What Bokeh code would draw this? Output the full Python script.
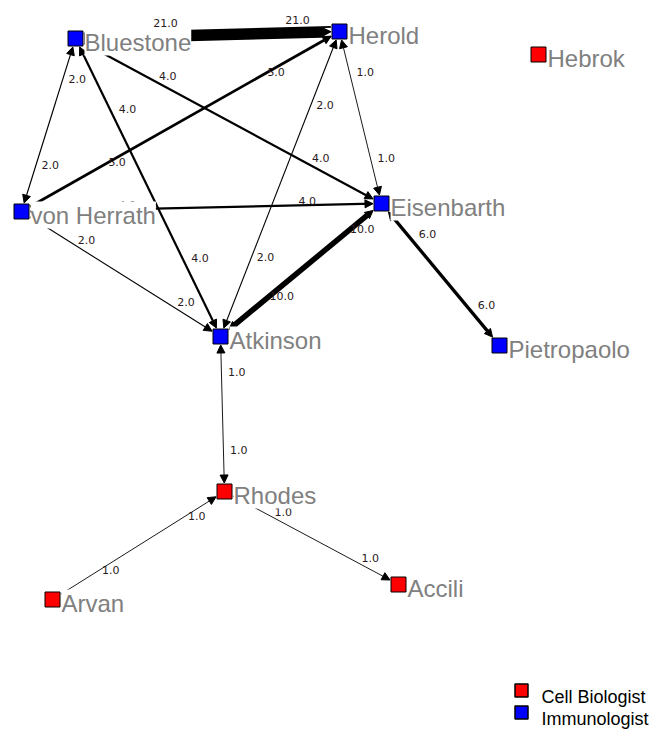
import math
from bokeh.plotting import figure
from bokeh.models import ColumnDataSource, Range1d, Arrow, NormalHead, LabelSet
from bokeh.core.properties import value
from bokeh.embed import file_html
from bokeh.resources import INLINE

# ---- data ----
node_names = ["Bluestone", "Herold", "Hebrok", "von Herrath", "Eisenbarth",
              "Atkinson", "Pietropaolo", "Rhodes", "Arvan", "Accili"]
node_x = [75, 339, 538, 21, 381, 220, 499, 224, 52, 398]
node_y = [38, 31, 54, 211, 203, 336, 345, 491, 599, 584]
node_group = ["Immunologist", "Immunologist", "Cell Biologist", "Immunologist",
              "Immunologist", "Immunologist", "Immunologist", "Cell Biologist",
              "Cell Biologist", "Cell Biologist"]

edge_from = ["Bluestone", "Bluestone", "Bluestone", "Atkinson", "von Herrath",
             "von Herrath", "von Herrath", "Atkinson", "Atkinson", "Herold",
             "Eisenbarth", "Atkinson", "Arvan", "Rhodes"]
edge_to = ["Herold", "von Herrath", "Eisenbarth", "Bluestone", "Herold",
           "Eisenbarth", "Atkinson", "Herold", "Eisenbarth", "Eisenbarth",
           "Pietropaolo", "Rhodes", "Rhodes", "Accili"]
edge_weight = [21.0, 2.0, 4.0, 4.0, 5.0, 4.0, 2.0, 2.0, 10.0, 1.0, 6.0, 1.0, 1.0, 1.0]
edge_mutual = [False, True, False, True, False, False, False, True, True, True,
               True, True, False, False]

groups = ["Cell Biologist", "Immunologist"]
group_colors = ["#FF0000", "#0000FF"]

# ---- figure: data coords == picture pixels ----
W, H = 650, 730
p = figure(width=W, height=H, output_backend="svg", toolbar_location=None,
           x_range=Range1d(0, W), y_range=Range1d(H, 0),
           x_axis_location=None, y_axis_location=None, min_border=0)
p.grid.visible = False
p.outline_line_color = None
p.background_fill_color = "white"
p.border_fill_color = "white"

pos = {n: (x, y) for n, x, y in zip(node_names, node_x, node_y)}
color_of = dict(zip(groups, group_colors))
HALF = 8.0

def shorten(x0, y0, x1, y1):
    dx, dy = x1 - x0, y1 - y0
    L = math.hypot(dx, dy)
    ux, uy = dx / L, dy / L
    d = HALF / max(abs(ux), abs(uy)) + 0.5
    return x0 + ux * d, y0 + uy * d, x1 - ux * d, y1 - uy * d

both = dict(x0=[], y0=[], x1=[], y1=[], lw=[])
single = dict(x0=[], y0=[], x1=[], y1=[], lw=[])
lab = dict(x=[], y=[], t=[])
for a, b, w, m in zip(edge_from, edge_to, edge_weight, edge_mutual):
    (xa, ya), (xb, yb) = pos[a], pos[b]
    sx0, sy0, sx1, sy1 = shorten(xa, ya, xb, yb)
    lw = max(0.9, 0.55 * w)
    d = both if m else single
    d["x0"].append(sx0); d["y0"].append(sy0)
    d["x1"].append(sx1); d["y1"].append(sy1); d["lw"].append(lw)
    for t in (0.25, 0.75):
        lab["x"].append(xa + (xb - xa) * t + 6 + 0.5 * lw)
        lab["y"].append(ya + (yb - ya) * t - (2 + lw))
        lab["t"].append(f"{w:.1f}")

for d, start in ((single, None), (both, True)):
    src = ColumnDataSource(d)
    arr = Arrow(x_start="x0", y_start="y0", x_end="x1", y_end="y1", source=src,
                line_color="black", line_width="lw", level="underlay",
                end=NormalHead(size=8, fill_color="black", line_color="black", line_width=1))
    if start:
        arr.start = NormalHead(size=8, fill_color="black", line_color="black", line_width=1)
    p.add_layout(arr)

# edge weight labels
p.text(x="x", y="y", text="t", source=ColumnDataSource(lab),
       text_font=value("DejaVu Sans"), text_font_size="11px", text_color="#2a1a22",
       text_align="left", text_baseline="alphabetic")

# nodes
nsrc = ColumnDataSource(dict(x=node_x, y=node_y, name=node_names,
                             lx=[x + 9 for x in node_x], ly=[y + 12 for y in node_y],
                             color=[color_of[g] for g in node_group]))
p.scatter(x="x", y="y", source=nsrc, marker="square", size=15,
          fill_color="color", line_color="black", line_width=1)
p.add_layout(LabelSet(x="lx", y="ly", text="name", source=nsrc,
                      text_font=value("Liberation Sans"), text_font_size="24px",
                      text_color="#808080", text_align="left",
                      text_baseline="alphabetic",
                      background_fill_color="white", background_fill_alpha=1.0))

# legend
leg_x = 521
leg_y = [690, 712]
p.scatter(x=[leg_x] * 2, y=leg_y, marker="square", size=13,
          fill_color=group_colors, line_color="black", line_width=1.5)
p.text(x=[leg_x + 20] * 2, y=[yy + 6 for yy in leg_y], text=groups,
       text_font=value("Liberation Sans"), text_font_size="18px",
       text_color="black", text_align="left", text_baseline="alphabetic")

open("out.html", "w").write(file_html(p, INLINE))
